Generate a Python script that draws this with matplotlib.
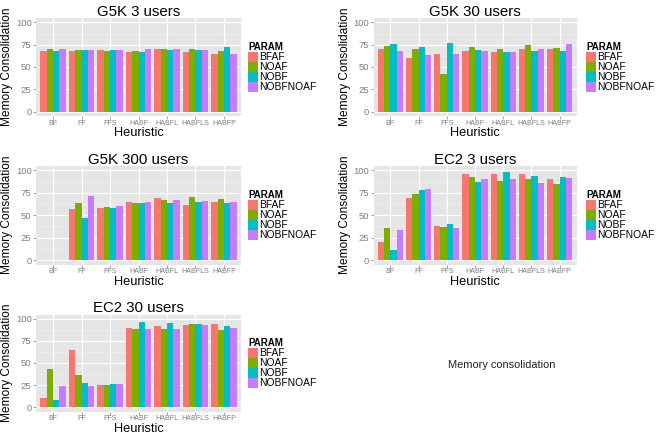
import numpy as np
import matplotlib
matplotlib.use("Agg")
import matplotlib.pyplot as plt
from matplotlib.patches import Rectangle

plt.rcParams['font.family'] = ['Liberation Sans', 'DejaVu Sans']

heuristics = ["BF", "FF", "FFS", "HABF", "HABFL", "HABFLS", "HABFP"]
params = ["BFAF", "NOAF", "NOBF", "NOBFNOAF"]
colors = ["#F8766D", "#7CAE00", "#00BFC4", "#C77CFF"]

# values per panel: rows = heuristics, columns = params
g5k_3 = [[68, 70, 68, 70],
         [68, 69, 69, 69],
         [69, 68, 69, 69],
         [67, 68, 67, 70],
         [70, 70, 69, 70],
         [67, 70, 69, 69],
         [65, 68, 72, 65]]
g5k_30 = [[70, 74, 75.5, 68],
          [60, 70, 73, 64],
          [65, 42, 77, 65],
          [68, 72, 69, 68],
          [67, 70, 67, 67],
          [70.5, 74.5, 68.5, 70.5],
          [70, 71, 68, 76]]
g5k_300 = [[np.nan, np.nan, np.nan, np.nan],
           [56.7, 64, 47, 71],
           [58, 59, 58, 60],
           [64.5, 64, 64, 65],
           [69, 67, 64, 67.5],
           [61.5, 70, 65, 66],
           [64.5, 68, 64, 65]]
ec2_3 = [[20, 35.5, 11, 33.7],
         [69, 74, 78.6, 79],
         [37.5, 36.7, 40.4, 36.3],
         [96, 93, 87, 91],
         [96, 88, 98, 90],
         [96.6, 91, 94, 86],
         [90, 84.6, 93, 92]]
ec2_30 = [[10.5, 43.4, 8.3, 24],
          [65, 36, 27, 24],
          [24.5, 24.5, 25.7, 26.4],
          [90, 89, 96, 89],
          [92, 88, 95.5, 88],
          [93, 94, 94, 93],
          [94, 87.5, 91.7, 90]]

titles = ["G5K 3 users", "G5K 30 users", "G5K 300 users", "EC2 3 users", "EC2 30 users"]
panels = [g5k_3, g5k_30, g5k_300, ec2_3, ec2_30]

W, H = 666, 438
fig = plt.figure(figsize=(W / 100, H / 100), dpi=100)

# panel boxes in pixels: (left, top, right, bottom)
boxes = [(36, 18, 241, 116),
         (373.5, 18, 576.5, 116),
         (36, 166, 241, 264.5),
         (373.5, 166, 576.5, 264.5),
         (36, 314.5, 241, 411.5)]

def fx(x):
    return x / W

def fy(y):
    return 1 - y / H

ax_grey = "#7F7F7F"
for data, title, (l, t, r, b) in zip(panels, titles, boxes):
    ax = fig.add_axes([fx(l), fy(b), (r - l) / W, (b - t) / H])
    ax.set_facecolor("#E5E5E5")
    arr = np.array(data, dtype=float)
    x = np.arange(1, len(heuristics) + 1)
    bw = 0.9 / 4
    for j, (p, c) in enumerate(zip(params, colors)):
        vals = arr[:, j]
        m = ~np.isnan(vals)
        ax.bar(x[m] - 0.45 + bw * (j + 0.5), vals[m], width=bw, color=c, linewidth=0)
    ax.set_xlim(0.4, 7.6)
    ax.set_ylim(-5, 105)
    ax.set_xticks(x)
    ax.set_xticklabels(heuristics, fontsize=5.1, color=ax_grey)
    ax.set_yticks([0, 25, 50, 75, 100])
    ax.set_yticklabels(["0", "25", "50", "75", "100"], fontsize=6.8, color=ax_grey)
    ax.set_yticks([12.5, 37.5, 62.5, 87.5], minor=True)
    ax.set_axisbelow(True)
    ax.grid(True, which="major", color="white", linewidth=0.9)
    ax.grid(True, which="minor", axis="y", color="#F2F2F2", linewidth=0.45)
    ax.tick_params(axis="both", which="major", length=2, width=0.5, color=ax_grey, pad=1.2)
    ax.tick_params(axis="x", which="major", pad=0.8)
    ax.tick_params(axis="both", which="minor", length=0)
    for s in ax.spines.values():
        s.set_visible(False)
    cx = (l + r) / 2
    fig.text(fx(cx), fy(t - 6.5), title, ha="center", va="center", fontsize=10.8)
    fig.text(fx(cx), fy(b + 17.5), "Heuristic", ha="center", va="center", fontsize=9.2)
    fig.text(fx(l - 28.5), fy((t + b) / 2), "Memory Consolidation", rotation=90,
             ha="center", va="center", fontsize=8.6)

    # legend
    lx = r + 7 if l < 300 else r + 9.5
    cy = (t + b) / 2
    top = cy - 24
    fig.text(fx(lx), fy(top + 4), "PARAM", ha="left", va="center", fontsize=7, fontweight="bold")
    ky = top + 8.7
    for j, (p, c) in enumerate(zip(params, colors)):
        y0 = ky + j * 10
        fig.patches.append(Rectangle((fx(lx), fy(y0 + 10)), 9.5 / W, 10 / H,
                                     transform=fig.transFigure, facecolor=c,
                                     edgecolor="none"))
        fig.text(fx(lx + 11.5), fy(y0 + 5), p, ha="left", va="center", fontsize=7.4)

fig.text(fx(502), fy(365), "Memory consolidation", ha="center", va="center",
         fontsize=7.9, color="#222222")

fig.savefig("out.png", dpi=100)
